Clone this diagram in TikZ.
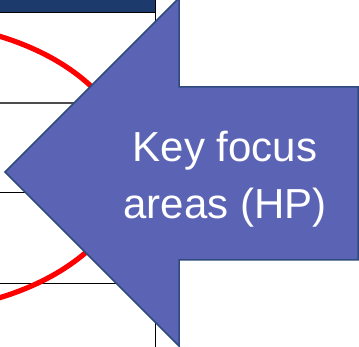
\documentclass[tikz,border=0pt]{standalone}
\usepackage{fontspec}
\setmainfont{Liberation Sans}
\usepackage{xcolor}
\usetikzlibrary{positioning}

\definecolor{arrowfill}{HTML}{5B63B5}
\definecolor{arrowedge}{HTML}{2F4B7C}
\definecolor{headbar}{HTML}{1C3B6C}

\begin{document}
\begin{tikzpicture}[x=1pt,y=-1pt,
  gridline/.style={black,line width=1pt},
  focuslabel/.style={text=white,align=center,font=\fontsize{42}{57}\selectfont}]
\useasboundingbox (0,0) rectangle (359,347);
\clip (0,0) rectangle (359,347);
% Table behind
\fill[headbar] (0,-2) rectangle (155,13);
\draw[gridline] (-2,13) -- (155,13);
\draw[gridline] (155,-2) -- (155,349);
\draw[gray!60!black,line width=1.8pt] (-2,103) -- (155,103);
\draw[gridline] (-2,193) -- (155,193);
\draw[gridline] (-2,284) -- (155,284);
% Highlight ring
\draw[red,line width=5.2pt] (-100,167) ellipse [x radius=230,y radius=145];
% Arrow
\draw[fill=arrowfill,draw=arrowedge,line width=1.5pt,line join=miter]
  (5,172) -- (179,-2) -- (179,87) -- (358,87) -- (358,260) -- (179,260) -- (179,346) -- cycle;
\node[focuslabel] (focus) at (225,179) {Key focus\\areas (HP)};
\end{tikzpicture}
\end{document}
